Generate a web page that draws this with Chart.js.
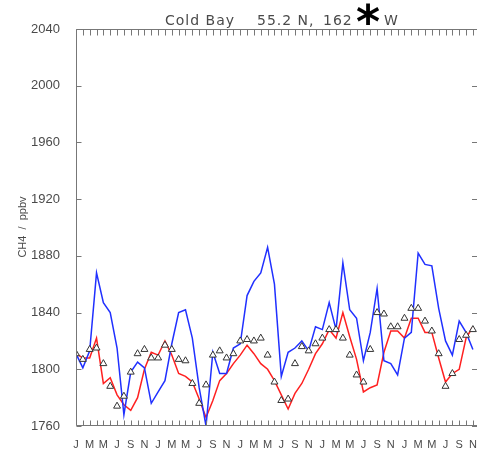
<!DOCTYPE html>
<html>
<head>
<meta charset="utf-8">
<script src="https://cdn.jsdelivr.net/npm/chart.js@4/dist/chart.umd.min.js"></script>
<style>
  html, body { margin: 0; padding: 0; background: #fff; }
  #wrap { width: 482px; height: 452px; }
</style>
</head>
<body>
<div id="wrap"><canvas id="chart" width="482" height="452"></canvas></div>
<script>
// month index 0 = Jan of first year, one value per month
const monthLabels = ['J', 'M', 'M', 'J', 'S', 'N'];   // shown every 2nd month
const yTickValues = [1760, 1800, 1840, 1880, 1920, 1960, 2000, 2040];

const modelBlue = [1811, 1801, 1813, 1868, 1847, 1840, 1815, 1768, 1798, 1805,
  1801, 1776, 1784, 1792, 1818, 1840, 1842, 1822, 1787, 1760,
  1812, 1797, 1797, 1815, 1818, 1852, 1862, 1868, 1886, 1860,
  1795, 1812, 1815, 1820, 1813, 1830, 1828, 1847, 1828, 1875,
  1842, 1836, 1806, 1826, 1857, 1806, 1804, 1796, 1822, 1826,
  1882, 1874, 1873, 1843, 1820, 1810, 1834, 1826, 1814];

const modelRed = [1811, 1808, 1808, 1822, 1790, 1794, 1782, 1775, 1771, 1780,
  1800, 1812, 1810, 1820, 1810, 1797, 1795, 1791, 1779, 1766,
  1778, 1792, 1797, 1804, 1810, 1817, 1811, 1804, 1800, 1792,
  1782, 1772, 1783, 1790, 1800, 1811, 1818, 1828, 1822, 1840,
  1823, 1807, 1784, 1787, 1789, 1812, 1827, 1827, 1822, 1836,
  1836, 1826, 1826, 1808, 1791, 1797, 1800, 1822, 1830];

const observed = [1811, 1807, 1814, 1815, 1804, 1788, 1774, 1781, 1798, 1811,
  1814, 1808, 1808, 1817, 1814, 1807, 1806, 1790, 1776, 1789,
  1810, 1813, 1808, 1811, 1820, 1821, 1820, 1822, 1810, 1791,
  1778, 1779, 1804, 1816, 1813, 1818, 1822, 1828, 1828, 1822,
  1810, 1796, 1791, 1814, 1840, 1839, 1830, 1830, 1836, 1843,
  1843, 1834, 1827, 1811, 1788, 1797, 1821, 1824, 1828];

const toXY = arr => arr.map((v, i) => ({ x: i, y: v }));
const axisGrey = '#777';
const textGrey = '#4a4a4a';

// axis frame with inward ticks, title and y label
const framePlugin = {
  id: 'frame',
  afterDraw(chart) {
    const { ctx, chartArea: a, scales: { x, y } } = chart;
    ctx.save();
    ctx.strokeStyle = axisGrey;
    ctx.lineWidth = 1;
    ctx.beginPath();
    const L = a.left + 0.5, T = a.top + 0.5, B = Math.round(a.bottom) - 0.5;
    ctx.moveTo(L, T); ctx.lineTo(L, B);
    ctx.moveTo(L, T); ctx.lineTo(a.right, T);
    ctx.moveTo(L, B); ctx.lineTo(a.right, B);
    for (let m = 0; m < modelBlue.length; m++) {
      const px = Math.round(x.getPixelForValue(m)) + 0.5;
      ctx.moveTo(px, T); ctx.lineTo(px, T + 6);
      ctx.moveTo(px, B); ctx.lineTo(px, B - 5);
    }
    yTickValues.forEach(v => {
      const py = Math.round(y.getPixelForValue(v)) + 0.5;
      ctx.moveTo(L, py); ctx.lineTo(L + 5, py);
      ctx.moveTo(a.right - 5, py); ctx.lineTo(a.right, py);
    });
    ctx.stroke();

    // title, pieces placed like the original
    ctx.fillStyle = textGrey;
    ctx.font = '14px "DejaVu Sans"';
    ctx.textBaseline = 'alphabetic';
    ctx.textAlign = 'left';
    ctx.letterSpacing = '1px';
    ctx.fillText('Cold Bay', 165, 25);
    ctx.fillText('55.2 N,', 257, 25);
    ctx.fillText('162', 323, 25);
    ctx.fillText('W', 384, 25);
    ctx.letterSpacing = '0px';
    ctx.fillStyle = '#000';
    ctx.font = 'bold 46px "DejaVu Sans"';
    ctx.textAlign = 'center';
    ctx.fillText('*', 368, 38);

    // y axis title
    ctx.fillStyle = textGrey;
    ctx.font = '11px "Liberation Sans"';
    ctx.translate(23, 227);
    ctx.rotate(-Math.PI / 2);
    ctx.textAlign = 'center';
    ctx.textBaseline = 'middle';
    ctx.fillText('CH4  /  ppbv', 0, 0);
    ctx.restore();
  }
};

new Chart(document.getElementById('chart'), {
  type: 'line',
  data: {
    datasets: [
      {
        label: 'Observed',
        data: toXY(observed),
        showLine: false,
        pointStyle: 'triangle',
        pointRadius: 4,
        pointBorderWidth: 1,
        pointBorderColor: '#333',
        pointBackgroundColor: '#fff',
        order: 0
      },
      {
        label: 'Model red',
        data: toXY(modelRed),
        borderColor: '#ff2020',
        borderWidth: 1.5,
        pointRadius: 0,
        tension: 0,
        order: 2
      },
      {
        label: 'Model blue',
        data: toXY(modelBlue),
        borderColor: '#2030ff',
        borderWidth: 1.5,
        pointRadius: 0,
        tension: 0,
        order: 1
      }
    ]
  },
  options: {
    responsive: false,
    animation: false,
    layout: { padding: { top: 29, left: 0, right: 0, bottom: 0 } },
    plugins: {
      legend: { display: false },
      tooltip: { enabled: false },
      title: { display: false }
    },
    scales: {
      x: {
        type: 'linear',
        min: 0,
        max: 58.6,
        grid: { display: false },
        border: { display: false },
        afterFit: s => { s.height = 26; s.paddingLeft = 0; s.paddingRight = 0; },
        afterBuildTicks: s => { s.ticks = modelBlue.map((_, i) => ({ value: i })); },
        ticks: {
          autoSkip: false,
          maxRotation: 0,
          padding: 4,
          color: textGrey,
          font: { family: '"Liberation Sans"', size: 11 },
          callback: v => (v % 2 === 0 ? monthLabels[(v % 12) / 2] : '')
        }
      },
      y: {
        min: 1760,
        max: 2040,
        grid: { display: false },
        border: { display: false },
        afterFit: s => { s.width = 76; s.paddingTop = 0; s.paddingBottom = 0; },
        ticks: {
          stepSize: 40,
          padding: 8,
          color: textGrey,
          font: { family: '"Liberation Sans"', size: 13 },
          callback: v => String(v)
        }
      }
    }
  },
  plugins: [framePlugin]
});
</script>
</body>
</html>
